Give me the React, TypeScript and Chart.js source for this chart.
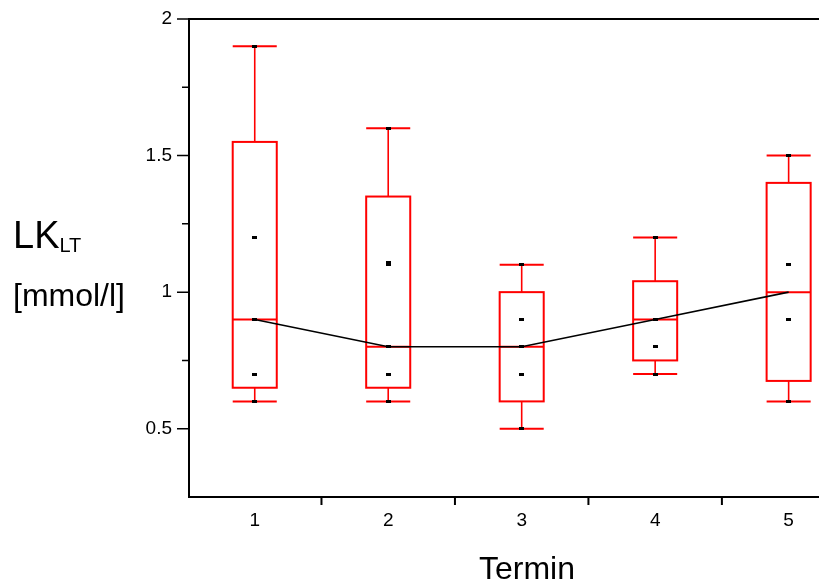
import React, { useEffect, useRef } from "react";
import { Chart, registerables } from "chart.js";

Chart.register(...registerables);

// ---- data ----
const termine = [1, 2, 3, 4, 5];
const termLabels = ["1", "2", "3", "4", "5"];
const whiskerHigh = [1.9, 1.6, 1.1, 1.2, 1.5];
const q3 = [1.55, 1.35, 1.0, 1.04, 1.4];
const medians = [0.9, 0.8, 0.8, 0.9, 1.0];
const q1 = [0.65, 0.65, 0.6, 0.75, 0.675];
const whiskerLow = [0.6, 0.6, 0.5, 0.7, 0.6];
const values1 = [1.9, 1.2, 0.9, 0.7, 0.6];
const values2 = [1.6, 1.11, 1.1, 0.8, 0.7, 0.6];
const values3 = [1.1, 0.9, 0.8, 0.7, 0.5];
const values4 = [1.2, 0.9, 0.8, 0.7];
const values5 = [1.5, 1.1, 0.9, 0.6];
const yTickValues = [0.5, 1, 1.5, 2];
const yMinorTicks = [0.75, 1.25, 1.75];
const xBoundaryTicks = [1.5, 2.5, 3.5, 4.5];

const allValues = [values1, values2, values3, values4, values5];

const RED = "#ff0000";
const FONT = "'Liberation Sans', Arial, Helvetica, sans-serif";
const BOX_HALF = 0.165;

function makeDot(): HTMLCanvasElement {
  const c = document.createElement("canvas");
  c.width = 5;
  c.height = 3;
  const g = c.getContext("2d")!;
  g.fillStyle = "#000";
  g.fillRect(0, 0, 5, 3);
  return c;
}

const boxPlugin = {
  id: "boxes",
  beforeDatasetsDraw(chart: any) {
    const { ctx } = chart;
    const xs = chart.scales.x;
    const ys = chart.scales.y;
    ctx.save();
    ctx.strokeStyle = RED;
    termine.forEach((t, i) => {
      const cx = xs.getPixelForValue(t);
      const l = xs.getPixelForValue(t - BOX_HALF);
      const r = xs.getPixelForValue(t + BOX_HALF);
      const yHi = ys.getPixelForValue(whiskerHigh[i]);
      const yQ3 = ys.getPixelForValue(q3[i]);
      const yMed = ys.getPixelForValue(medians[i]);
      const yQ1 = ys.getPixelForValue(q1[i]);
      const yLo = ys.getPixelForValue(whiskerLow[i]);
      ctx.lineWidth = 1.6;
      ctx.beginPath();
      ctx.moveTo(cx, yHi);
      ctx.lineTo(cx, yQ3);
      ctx.moveTo(cx, yQ1);
      ctx.lineTo(cx, yLo);
      ctx.stroke();
      ctx.lineWidth = 2;
      ctx.beginPath();
      ctx.moveTo(l, yHi);
      ctx.lineTo(r, yHi);
      ctx.moveTo(l, yLo);
      ctx.lineTo(r, yLo);
      ctx.stroke();
      ctx.lineWidth = 2;
      ctx.strokeRect(l, yQ3, r - l, yQ1 - yQ3);
      ctx.beginPath();
      ctx.moveTo(l, yMed);
      ctx.lineTo(r, yMed);
      ctx.stroke();
    });
    ctx.restore();
  },
};

const axesPlugin = {
  id: "axesDecor",
  afterDraw(chart: any) {
    const { ctx, chartArea } = chart;
    const xs = chart.scales.x;
    const ys = chart.scales.y;
    const rightEdge = chart.width;
    ctx.save();
    ctx.strokeStyle = "#000";
    ctx.lineWidth = 2;
    const left = chartArea.left + 1;
    const bottom = chartArea.bottom;
    ctx.beginPath();
    ctx.moveTo(left, chartArea.top);
    ctx.lineTo(left, bottom + 1);
    ctx.moveTo(left - 1, bottom);
    ctx.lineTo(rightEdge, bottom);
    ctx.moveTo(left - 1, chartArea.top);
    ctx.lineTo(rightEdge, chartArea.top);
    ctx.stroke();
    ctx.lineWidth = 1.5;
    ctx.beginPath();
    yTickValues.forEach((v) => {
      const y = ys.getPixelForValue(v);
      ctx.moveTo(left - 12, y);
      ctx.lineTo(left, y);
    });
    yMinorTicks.forEach((v) => {
      const y = ys.getPixelForValue(v);
      ctx.moveTo(left - 7, y);
      ctx.lineTo(left, y);
    });
    ctx.stroke();
    ctx.lineWidth = 2;
    ctx.beginPath();
    xBoundaryTicks.forEach((v) => {
      const x = xs.getPixelForValue(v);
      ctx.moveTo(x, bottom);
      ctx.lineTo(x, bottom + 8);
    });
    ctx.stroke();

    ctx.fillStyle = "#000";
    ctx.textAlign = "left";
    ctx.textBaseline = "alphabetic";
    ctx.font = `38px ${FONT}`;
    ctx.fillText("LK", 13, 248);
    const w = ctx.measureText("LK").width;
    ctx.font = `20px ${FONT}`;
    ctx.fillText("LT", 13 + w, 252);
    ctx.font = `32px ${FONT}`;
    ctx.fillText("[mmol/l]", 13, 306);
    ctx.textAlign = "center";
    ctx.font = `32px ${FONT}`;
    ctx.fillText("Termin", 527, 579);
    ctx.restore();
  },
};

export default function App() {
  const ref = useRef<HTMLCanvasElement | null>(null);

  useEffect(() => {
    document.body.style.margin = "0";
    const canvas = ref.current!;
    const dot = makeDot();
    const pointData: { x: number; y: number }[] = [];
    allValues.forEach((vals, i) => {
      vals.forEach((v) => pointData.push({ x: termine[i], y: v }));
    });
    const medianData = termine.map((t, i) => ({ x: t, y: medians[i] }));

    const chart = new Chart(canvas, {
      type: "scatter",
      data: {
        datasets: [
          {
            type: "scatter",
            data: pointData,
            pointStyle: dot as any,
            pointRadius: 3,
            backgroundColor: "#000",
            borderColor: "#000",
          } as any,
          {
            type: "line",
            data: medianData,
            borderColor: "#000",
            borderWidth: 1.6,
            pointRadius: 0,
            fill: false,
            tension: 0,
          } as any,
        ],
      },
      options: {
        responsive: false,
        animation: false,
        events: [],
        layout: { padding: { top: 19, right: 0, bottom: 0, left: 0 } },
        plugins: {
          legend: { display: false },
          tooltip: { enabled: false },
        },
        scales: {
          x: {
            type: "linear",
            min: 0.5,
            max: 5.19,
            grid: { display: false, drawTicks: false },
            border: { display: false },
            afterBuildTicks: (s: any) => {
              s.ticks = termine.map((v) => ({ value: v }));
            },
            afterFit: (s: any) => {
              s.height = 85;
              s.paddingLeft = 0;
              s.paddingRight = 0;
            },
            ticks: {
              color: "#000",
              padding: 12,
              font: { family: FONT, size: 19 },
              callback: (v: any) => termLabels[termine.indexOf(Number(v))] ?? "",
            },
          },
          y: {
            type: "linear",
            min: 0.25,
            max: 2,
            grid: { display: false, drawTicks: false },
            border: { display: false },
            afterBuildTicks: (s: any) => {
              s.ticks = yTickValues.map((v) => ({ value: v }));
            },
            afterFit: (s: any) => {
              s.width = 188;
              s.paddingTop = 0;
              s.paddingBottom = 0;
            },
            ticks: {
              color: "#000",
              padding: 16,
              font: { family: FONT, size: 19 },
              callback: (v: any) => String(v),
            },
          },
        },
      },
      plugins: [boxPlugin, axesPlugin],
    });
    return () => chart.destroy();
  }, []);

  return (
    <div style={{ width: 819, height: 582, background: "#fff" }}>
      <canvas ref={ref} width={819} height={582} style={{ display: "block", width: 819, height: 582 }} />
    </div>
  );
}
